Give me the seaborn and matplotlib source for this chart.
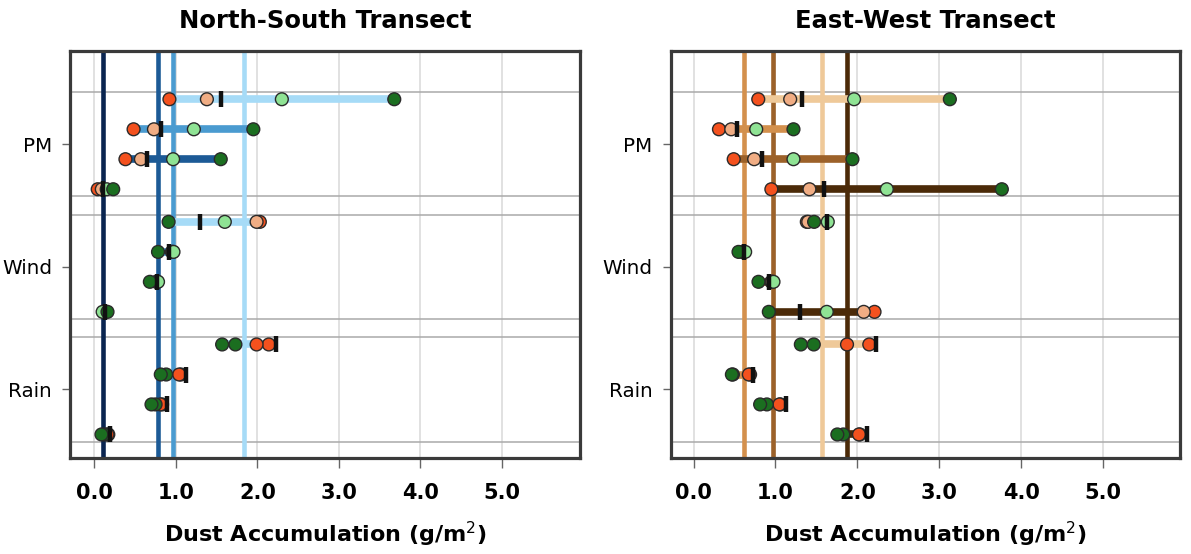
import numpy as np
import pandas as pd
import matplotlib
matplotlib.use("Agg")
import matplotlib.pyplot as plt
import seaborn as sns

# ---------------- data ----------------
groups = ["PM", "Wind", "Rain"]
titles = ["North-South Transect", "East-West Transect"]
xticks = [0.0, 1.0, 2.0, 3.0, 4.0, 5.0]
xlabel = r"Dust Accumulation (g/m$^2$)"

# each list: groups (PM, Wind, Rain) x 4 rows (top to bottom)
ns_s1 = [[0.92, 0.48, 0.38, 0.04], [2.03, 0.95, 0.76, 0.12], [2.14, 1.06, 0.83, 0.17]]
ns_s2 = [[1.38, 0.73, 0.57, 0.09], [1.99, 0.96, 0.77, 0.13], [1.99, 1.04, 0.81, 0.16]]
ns_s3 = [[2.30, 1.22, 0.965, 0.15], [1.60, 0.97, 0.78, 0.10], [1.73, 0.88, 0.75, 0.12]]
ns_s4 = [[3.68, 1.95, 1.55, 0.23], [0.91, 0.78, 0.68, 0.16], [1.567, 0.814, 0.70, 0.086]]
ns_tick = [[1.55, 0.82, 0.65, 0.10], [1.29, 0.92, 0.765, 0.13], [2.23, 1.125, 0.888, 0.19]]
ns_ref = [1.84, 0.965, 0.774, 0.106]

ew_s1 = [[0.79, 0.31, 0.49, 0.95], [1.383, 0.60, 0.95, 2.21], [2.146, 0.69, 1.06, 2.03]]
ew_s2 = [[1.18, 0.46, 0.74, 1.415], [1.40, 0.60, 0.96, 2.078], [1.874, 0.675, 1.049, 2.02]]
ew_s3 = [[1.96, 0.765, 1.22, 2.36], [1.639, 0.63, 0.976, 1.627], [1.468, 0.48, 0.895, 1.829]]
ew_s4 = [[3.13, 1.22, 1.94, 3.765], [1.472, 0.549, 0.793, 0.919], [1.31, 0.468, 0.813, 1.756]]
ew_tick = [[1.33, 0.525, 0.83, 1.59], [1.627, 0.61, 0.927, 1.30], [2.228, 0.73, 1.13, 2.12]]
ew_ref = [1.573, 0.615, 0.976, 1.878]

# marker colour category of series s1..s4 in each group
group_series_cat = {
    "PM": ["red", "peach", "lgreen", "dgreen"],
    "Wind": ["red", "peach", "lgreen", "dgreen"],
    "Rain": ["red", "red", "dgreen", "dgreen"],
}
marker_palette = {"red": "#f4511e", "peach": "#f0ad84", "lgreen": "#8fe394", "dgreen": "#1b6e20"}
ns_row_colors = ["#a6dbf7", "#4a9bd0", "#1c5a96", "#0a2550"]
ew_row_colors = ["#efc999", "#d3904d", "#9c6129", "#4b2a08"]

row_offsets = [-0.367, -0.122, 0.122, 0.367]
sep = 0.425

panels = [
    (ns_s1, ns_s2, ns_s3, ns_s4, ns_tick, ns_ref, ns_row_colors, (-0.3, 5.96)),
    (ew_s1, ew_s2, ew_s3, ew_s4, ew_tick, ew_ref, ew_row_colors, (-0.28, 5.94)),
]

# ---------------- figure ----------------
sns.set_theme(style="white")
plt.rcParams["font.family"] = ["DejaVu Sans"]
plt.rcParams["text.color"] = "black"
plt.rcParams["axes.labelcolor"] = "black"
plt.rcParams["xtick.color"] = "black"
plt.rcParams["ytick.color"] = "black"

fig = plt.figure(figsize=(11.91, 5.54), dpi=100)
ax_pos = [[0.0588, 0.1724, 0.4282, 0.7361], [0.5631, 0.1724, 0.4276, 0.7361]]

for pi, (s1, s2, s3, s4, tk, ref, rcols, xl) in enumerate(panels):
    ax = fig.add_axes(ax_pos[pi])
    rows = []
    for gi, g in enumerate(groups):
        cats = group_series_cat[g]
        for r in range(4):
            y = gi + row_offsets[r]
            vals = [s1[gi][r], s2[gi][r], s3[gi][r], s4[gi][r]]
            for si in range(4):
                rows.append({"x": vals[si], "y": y, "cat": cats[si], "row": r,
                             "tick": tk[gi][r]})
    df = pd.DataFrame(rows)

    # separators
    for gi in range(len(groups)):
        ax.axhline(gi - sep, color="#a9a9a9", lw=1.1, zorder=0.8)
        ax.axhline(gi + sep, color="#a9a9a9", lw=1.1, zorder=0.8)

    # reference vertical lines
    for r in range(4):
        ax.axvline(ref[r], color=rcols[r], lw=3.3, zorder=1.5)

    # range bars
    rng = df.groupby(["y", "row"]).agg(lo=("x", "min"), hi=("x", "max")).reset_index()
    for _, rr in rng.iterrows():
        ax.hlines(rr["y"], rr["lo"], rr["hi"], color=rcols[int(rr["row"])], lw=5.5,
                  zorder=2)

    # points
    sns.scatterplot(data=df, x="x", y="y", hue="cat", palette=marker_palette, s=85,
                    edgecolor="#2a2a2a", linewidth=1.0, legend=False, ax=ax, zorder=4)

    # tick markers
    tdf = df.drop_duplicates(subset=["y"])
    ax.plot(tdf["tick"], tdf["y"], ls="none", marker="|", ms=12, mew=3.2,
            color="#111111", zorder=5)

    ax.set_xlim(*xl)
    ax.set_ylim(2.563, -0.763)
    ax.set_yticks(range(len(groups)))
    ax.set_yticklabels(groups, fontsize=14.3)
    ax.set_xticks(xticks)
    ax.set_xticklabels([f"{t:.1f}" for t in xticks], fontsize=15, fontweight="bold")
    ax.grid(axis="x", color="#dcdcdc", lw=1.2)
    ax.grid(axis="y", visible=False)
    ax.set_axisbelow(True)
    ax.tick_params(axis="x", length=7.5, width=1, color="#666666", labelcolor="black",
                   pad=10, bottom=True)
    ax.tick_params(axis="y", length=6, width=1, color="#666666", labelcolor="black",
                   pad=7, left=True)
    for sp in ax.spines.values():
        sp.set_color("#3a3a3a")
        sp.set_linewidth(2.3)
    ax.set_xlabel(xlabel, fontsize=16, fontweight="bold", labelpad=12, color="black")
    ax.set_ylabel("")
    ax.set_title(titles[pi], fontsize=17.5, fontweight="bold", pad=16, color="black")

fig.savefig("out.png", dpi=100)
